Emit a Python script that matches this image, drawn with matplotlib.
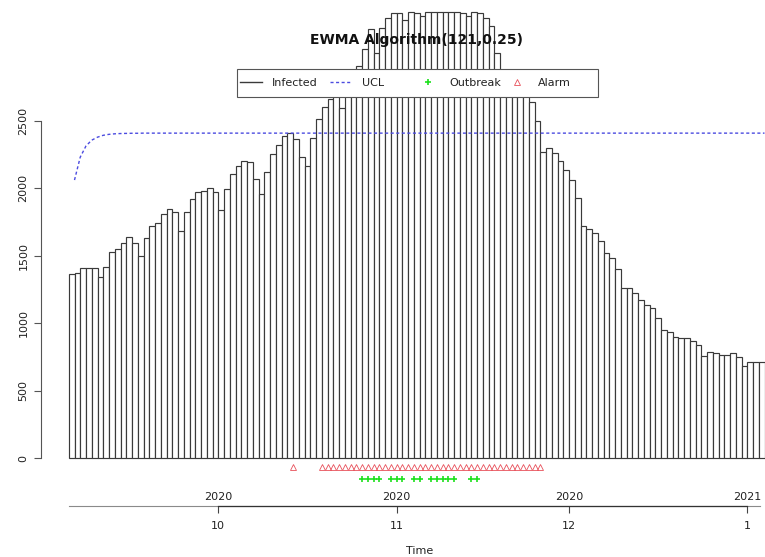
import numpy as np
import matplotlib
matplotlib.use("Agg")
import matplotlib.pyplot as plt
from matplotlib.lines import Line2D
from matplotlib.patches import Rectangle

# ---------------- data ----------------
infected = [
    1365, 1375, 1407, 1407, 1412, 1345, 1415, 1526, 1548, 1593,
    1637, 1597, 1498, 1630, 1721, 1741, 1808, 1845, 1823, 1686,
    1823, 1919, 1976, 1983, 2000, 1976, 1840, 1994, 2104, 2168,
    2206, 2193, 2067, 1956, 2119, 2255, 2322, 2389, 2413, 2366,
    2235, 2168, 2374, 2515, 2602, 2661, 2720, 2594, 2760, 2840,
    2908, 3032, 3180, 3002, 3187, 3262, 3304, 3300, 3249, 3305,
    3300, 3277, 3310, 3312, 3308, 3311, 3310, 3306, 3300, 3280,
    3311, 3298, 3262, 3205, 3002, 2870, 2830, 2790, 2740, 2700,
    2643, 2502, 2272, 2297, 2260, 2206, 2136, 2062, 1926, 1723,
    1700, 1667, 1610, 1523, 1481, 1400, 1259, 1264, 1222, 1172,
    1135, 1110, 1041, 950, 937, 900, 888, 888, 868, 838,
    757, 784, 776, 764, 764, 776, 747, 685, 714, 714,
    714,
]

ucl = [
    2062, 2232, 2315, 2358, 2380, 2394, 2401, 2405, 2407, 2408,
    2409, 2409, 2410, 2410, 2410, 2410, 2410, 2410, 2410, 2410,
    2410, 2410, 2410, 2410, 2410, 2410, 2410, 2410, 2410, 2410,
    2410, 2410, 2410, 2410, 2410, 2410, 2410, 2410, 2410, 2410,
    2410, 2410, 2410, 2410, 2410, 2410, 2410, 2410, 2410, 2410,
    2410, 2410, 2410, 2410, 2410, 2410, 2410, 2410, 2410, 2410,
    2410, 2410, 2410, 2410, 2410, 2410, 2410, 2410, 2410, 2410,
    2410, 2410, 2410, 2410, 2410, 2410, 2410, 2410, 2410, 2410,
    2410, 2410, 2410, 2410, 2410, 2410, 2410, 2410, 2410, 2410,
    2410, 2410, 2410, 2410, 2410, 2410, 2410, 2410, 2410, 2410,
    2410, 2410, 2410, 2410, 2410, 2410, 2410, 2410, 2410, 2410,
    2410, 2410, 2410, 2410, 2410, 2410, 2410, 2410, 2410, 2410,
    2410,
]

# 0-based bar indices flagged
outbreak_idx = [50, 51, 52, 53, 55, 56, 57, 59, 60, 62, 63, 64, 65, 66, 69, 70]
alarm_idx = [38, 43, 44, 45, 46, 47, 48, 49, 50, 51, 52, 53, 54, 55, 56, 57,
             58, 59, 60, 61, 62, 63, 64, 65, 66, 67, 68, 69, 70, 71, 72,
             73, 74, 75, 76, 77, 78, 79, 80, 81]

month_ticks = [26, 57, 87, 118]          # time index of the 1st of each month
month_labels = ["10", "11", "12", "1"]
year_labels = ["2020", "2020", "2020", "2021"]
y_ticks = [0, 500, 1000, 1500, 2000, 2500]

title = "EWMA Algorithm(121,0.25)"
legend_labels = ["Infected", "UCL", "Outbreak", "Alarm"]

# ---------------- layout helpers (pixel geometry of the reference) ----------
W, H = 765, 557
PX = 5.75          # pixels per time unit
X0 = 68.75         # pixel of time 0
Y0 = 458.0         # pixel row of value 0
SY = 337.0 / 2500  # pixels per unit value

def vy(py):
    return (Y0 - py) / SY

def ux(px):
    return (px - X0) / PX

plt.rcParams["font.family"] = ["DejaVu Sans"]
fig = plt.figure(figsize=(W / 100, H / 100), dpi=100)
ax = fig.add_axes([0, 0, 1, 1])
ax.set_xlim(ux(0), ux(W))
ax.set_ylim(vy(H), vy(0))

n = len(infected)
t = np.arange(1, n + 1)
vals = np.array(infected)

# bars spanning [t-1, t]
ax.bar(t - 0.5, vals, width=1.0, facecolor="white", edgecolor="#3a3a3a",
       linewidth=0.85, zorder=2)

# UCL
ax.plot(t, ucl, color="#4b4be0", lw=1.0, dashes=(2.2, 1.8), zorder=3)

# alarms / outbreaks below the baseline
ai = np.array(alarm_idx)
oi = np.array(outbreak_idx)
ax.plot(t[ai], np.full(len(ai), vy(467.3)), linestyle="none", marker="^",
        ms=4.3, mfc="none", mec="#e8505a", mew=0.6, zorder=3, clip_on=False)
ax.plot(t[oi], np.full(len(oi), vy(479.0)), linestyle="none", marker="+",
        ms=5.0, color="#1ee01e", mew=1.2, zorder=3, clip_on=False)

# ---------------- axes styling ----------------
for s in ["top", "right"]:
    ax.spines[s].set_visible(False)
ax.spines["left"].set_position(("data", ux(41)))
ax.spines["left"].set_bounds(0, 2500)
ax.spines["left"].set_color("#555555")
ax.spines["left"].set_linewidth(0.8)
ax.set_yticks(y_ticks)
ax.set_yticklabels([str(v) for v in y_ticks], rotation=90, va="center")
ax.tick_params(axis="y", direction="out", length=5, width=0.8,
               color="#555555", labelsize=8, labelcolor="#222222", pad=4)

xaxis_y = vy(505.7)
ax.spines["bottom"].set_position(("data", xaxis_y))
ax.spines["bottom"].set_bounds(0, ux(760))
ax.spines["bottom"].set_color("#8a8a8a")
ax.spines["bottom"].set_linewidth(0.8)
ax.set_xticks(month_ticks)
ax.set_xticklabels(month_labels)
ax.tick_params(axis="x", direction="out", length=5, width=0.8,
               color="#444444", labelsize=8, labelcolor="#222222", pad=6)
ax.plot([month_ticks[0], month_ticks[-1]], [xaxis_y, xaxis_y],
        color="#333333", lw=0.9, clip_on=False, zorder=3)
for tt, yl in zip(month_ticks, year_labels):
    ax.text(tt, vy(496.7), yl, ha="center", va="center", fontsize=8,
            color="#222222")

fig.text(420 / W, 1 - 551.5 / H, "Time", ha="center", va="center",
         fontsize=8, color="#222222")
fig.text(416.5 / W, 1 - 40 / H, title, ha="center", va="center",
         fontsize=10, fontweight="bold", color="#111111", zorder=6)

# ---------------- legend (R style horizontal box) ----------------
box = Rectangle((237 / W, 1 - 97 / H), (598 - 237) / W, 28 / H,
                transform=fig.transFigure, facecolor="white",
                edgecolor="#555555", linewidth=0.8, zorder=4)
fig.add_artist(box)

handles = [
    Line2D([], [], color="#3a3a3a", lw=1.0),
    Line2D([], [], color="#4b4be0", lw=1.0, dashes=(2.2, 1.8)),
    Line2D([], [], linestyle="none", marker="+", ms=5.0, color="#1ee01e", mew=1.2),
    Line2D([], [], linestyle="none", marker="^", ms=4.3, mfc="none",
           mec="#e8505a", mew=0.6),
]
starts = [240, 330, 417, 506]
for h, lab, sx in zip(handles, legend_labels, starts):
    lg = fig.legend(handles=[h], labels=[lab], loc="center left",
                    bbox_to_anchor=(sx / W, 1 - 83 / H), frameon=False,
                    borderpad=0, borderaxespad=0, handlelength=2.0,
                    handletextpad=0.9, fontsize=8)
    lg.set_zorder(5)
    for tx in lg.get_texts():
        tx.set_color("#222222")

fig.savefig("out.png", dpi=100)
